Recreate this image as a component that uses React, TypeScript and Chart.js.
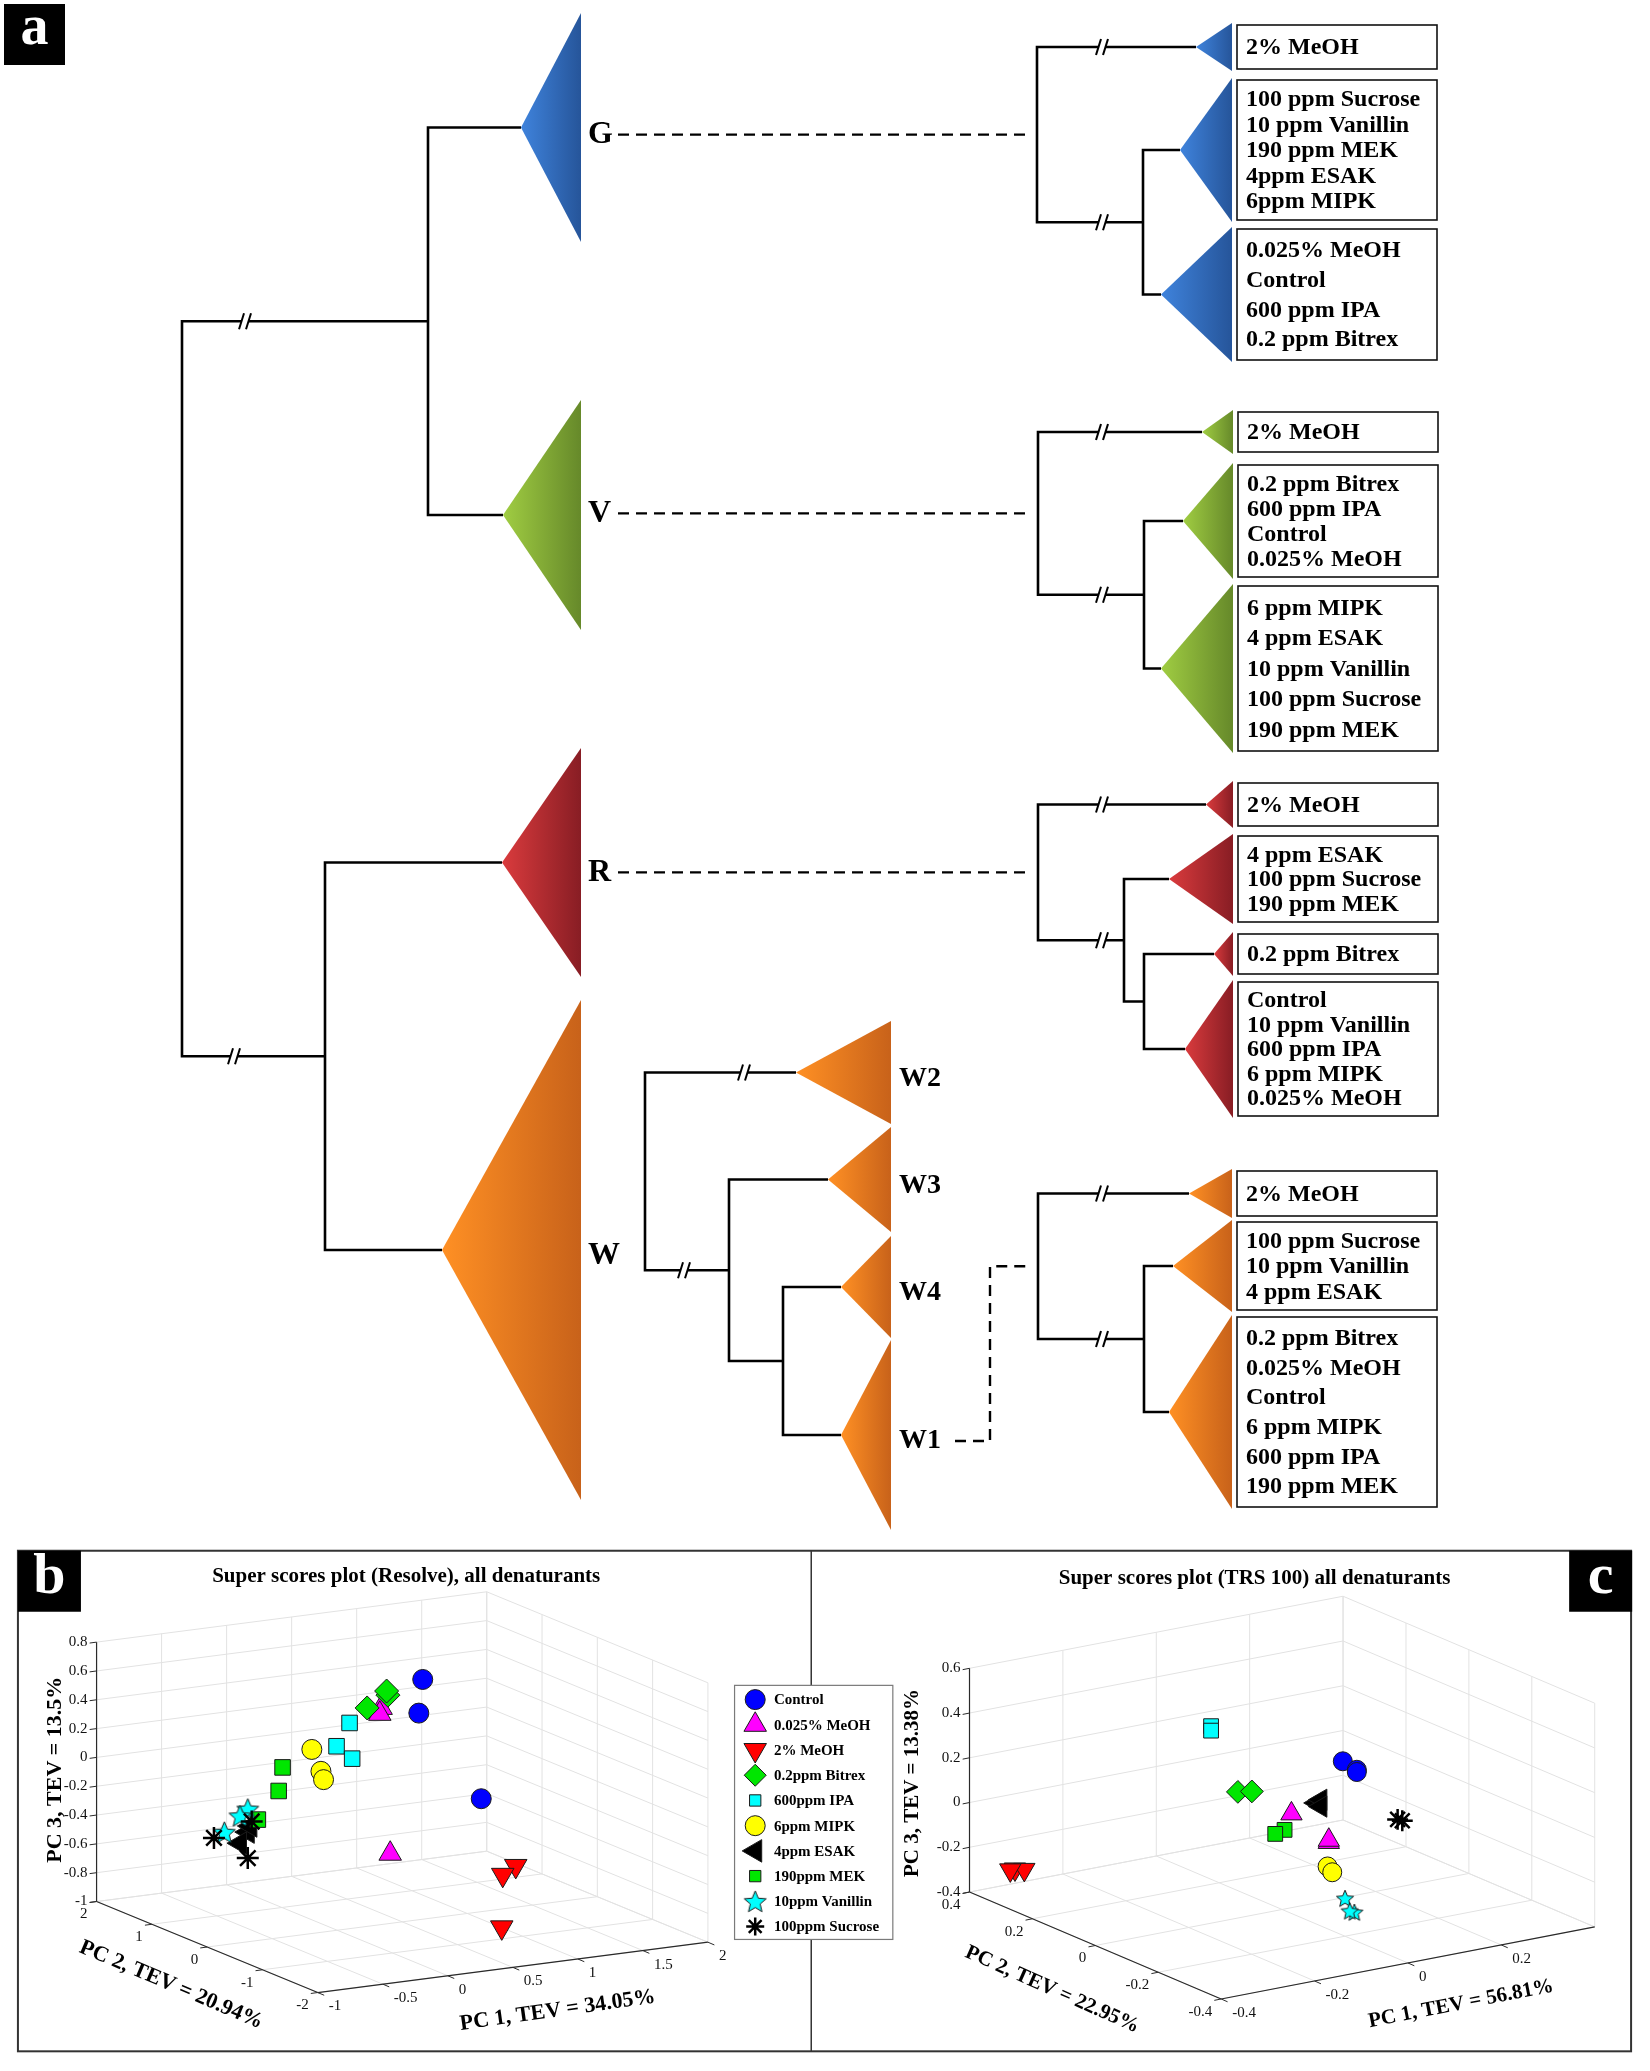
import React, { useEffect, useRef } from 'react';
import { Chart, registerables } from 'chart.js';
import { drawPoint } from 'chart.js/helpers';

Chart.register(...registerables);

// ======================= DATA =======================
// Panel a – dendrogram content
const MAIN_CLUSTERS = ['G', 'V', 'R', 'W'];
const W_SUBCLUSTERS = ['W2', 'W3', 'W4', 'W1'];
const G_GROUPS = [
  ['2% MeOH'],
  ['100 ppm Sucrose', '10 ppm Vanillin', '190 ppm MEK', '4ppm ESAK', '6ppm MIPK'],
  ['0.025% MeOH', 'Control', '600 ppm IPA', '0.2 ppm Bitrex'],
];
const V_GROUPS = [
  ['2% MeOH'],
  ['0.2 ppm Bitrex', '600 ppm IPA', 'Control', '0.025% MeOH'],
  ['6 ppm MIPK', '4 ppm ESAK', '10 ppm Vanillin', '100 ppm Sucrose', '190 ppm MEK'],
];
const R_GROUPS = [
  ['2% MeOH'],
  ['4 ppm ESAK', '100 ppm Sucrose', '190 ppm MEK'],
  ['0.2 ppm Bitrex'],
  ['Control', '10 ppm Vanillin', '600 ppm IPA', '6 ppm MIPK', '0.025% MeOH'],
];
const W1_GROUPS = [
  ['2% MeOH'],
  ['100 ppm Sucrose', '10 ppm Vanillin', '4 ppm ESAK'],
  ['0.2 ppm Bitrex', '0.025% MeOH', 'Control', '6 ppm MIPK', '600 ppm IPA', '190 ppm MEK'],
];

// Panels b and c – super scores
const TREATMENTS = [
  'Control', '0.025% MeOH', '2% MeOH', '0.2ppm Bitrex', '600ppm IPA',
  '6ppm MIPK', '4ppm ESAK', '190ppm MEK', '10ppm Vanillin', '100ppm Sucrose',
];
const RESOLVE_TITLE = 'Super scores plot (Resolve), all denaturants';
const TRS_TITLE = 'Super scores plot (TRS 100) all denaturants';
const RESOLVE_AXIS_TITLES = ['PC 1, TEV = 34.05%', 'PC 2, TEV = 20.94%', 'PC 3, TEV = 13.5%'];
const TRS_AXIS_TITLES = ['PC 1, TEV = 56.81%', 'PC 2, TEV = 22.95%', 'PC 3, TEV = 13.38%'];
const RESOLVE_PC1_TICKS = [-1, -0.5, 0, 0.5, 1, 1.5, 2];
const RESOLVE_PC2_TICKS = [-2, -1, 0, 1, 2];
const RESOLVE_PC3_TICKS = [-1, -0.8, -0.6, -0.4, -0.2, 0, 0.2, 0.4, 0.6, 0.8];
const TRS_PC1_TICKS = [-0.4, -0.2, 0, 0.2];
const TRS_PC2_TICKS = [-0.4, -0.2, 0, 0.2, 0.4];
const TRS_PC3_TICKS = [-0.4, -0.2, 0, 0.2, 0.4, 0.6];
const RESOLVE_LIMITS = { min: [-1, -2, -1], max: [2, 2, 0.8] };
const TRS_LIMITS = { min: [-0.4, -0.4, -0.4], max: [0.4, 0.4, 0.6] };

// [PC1, PC2, PC3] per treatment (order as TREATMENTS)
const RESOLVE_SCORES = [
  [[0.87, 0.5, 0.56], [0.84, 0.5, 0.33], [1.32, 0.5, -0.32]],
  [[0.55, 0.5, 0.4], [0.54, 0.5, 0.36], [0.62, 0.5, -0.62]],
  [[1.16, -0.5, -0.61], [1.06, -0.5, -0.66], [0.84, -1, -0.92]],
  [[0.73, 0.8, 0.42], [0.72, 0.8, 0.45], [0.57, 0.8, 0.35]],
  [[0.52, 1, 0.22], [0.42, 1, 0.07], [0.54, 1, -0.03]],
  [[0.23, 1, 0.07], [0.3, 1, -0.09], [0.32, 1, -0.15]],
  [[-0.05, 1.5, -0.55], [-0.11, 1.5, -0.62], [-0.03, 1.5, -0.51]],
  [[0.09, 1.2, -0.07], [0.06, 1.2, -0.23], [-0.1, 1.2, -0.41]],
  [[-0.05, 1.5, -0.39], [-0.11, 1.5, -0.43], [-0.23, 1.5, -0.53]],
  [[-0.31, 1.5, -0.56], [-0.02, 1.5, -0.48], [-0.05, 1.5, -0.73]],
];
const TRS_SCORES = [
  [[0.13, 0, 0.21], [0.16, 0, 0.16], [0.16, 0, 0.15]],
  [[0.02, 0, 0.02], [0.1, 0, -0.14], [0.1, 0, -0.13]],
  [[-0.37, 0.3, -0.25], [-0.35, 0.3, -0.26], [-0.38, 0.3, -0.25]],
  [[0.04, 0.2, -0.01], [0.07, 0.2, -0.02]],
  [[0.05, 0.3, 0.22], [0.05, 0.3, 0.2]],
  [[0.03, -0.1, -0.16], [0.04, -0.1, -0.19]],
  [[0.14, 0.1, -0.04], [0.15, 0.1, -0.03], [0.15, 0.1, -0.06]],
  [[0.14, 0.2, -0.22], [0.12, 0.2, -0.23]],
  [[0.0, -0.2, -0.23], [0.02, -0.2, -0.3], [0.01, -0.2, -0.29]],
  [[0.18, -0.1, -0.01], [0.19, -0.1, -0.02]],
];

// ======================= STYLE / LAYOUT =======================
const PAGE_W = 1650;
const PAGE_H = 2071;
const TOP_H = 1532;
const SERIF = '"Liberation Serif", "Times New Roman", serif';

const HUES: Record<string, [string, string]> = {
  G: ['#3f83dc', '#26559a'],
  V: ['#a0cd42', '#66892a'],
  R: ['#da3b3d', '#881d24'],
  W: ['#ff9024', '#c8621a'],
};

type Tri = { t: 'tri'; apex: number; top: number; bottom: number; base: number; hue: string; label?: string; items?: string[] };
type Nd = { t: 'node'; x: number; kids: (Tri | Nd)[]; brk?: (number | null)[] };
type Tree = Tri | Nd;
const tri = (apex: number, top: number, bottom: number, base: number, hue: string, label?: string, items?: string[]): Tri =>
  ({ t: 'tri', apex, top, bottom, base, hue, label, items });
const node = (x: number, kids: Tree[], brk?: (number | null)[]): Nd => ({ t: 'node', x, kids, brk });
const attachY = (n: Tree): number =>
  n.t === 'tri' ? (n.top + n.bottom) / 2 : (attachY(n.kids[0]) + attachY(n.kids[n.kids.length - 1])) / 2;
const attachX = (n: Tree): number => (n.t === 'tri' ? n.apex : n.x);

// main tree
const G_TRI = tri(521, 13, 242, 581, 'G', MAIN_CLUSTERS[0]);
const V_TRI = tri(503, 400, 630, 581, 'V', MAIN_CLUSTERS[1]);
const R_TRI = tri(502, 748, 977, 581, 'R', MAIN_CLUSTERS[2]);
const W_TRI = tri(442, 1000, 1500, 581, 'W', MAIN_CLUSTERS[3]);
const MAIN_TREE = node(182, [node(428, [G_TRI, V_TRI]), node(325, [R_TRI, W_TRI])], [245, 234]);

const W1_TRI = tri(841, 1340, 1530, 891, 'W', W_SUBCLUSTERS[3]);
const W_TREE = node(645, [
  tri(796, 1021, 1124, 891, 'W', W_SUBCLUSTERS[0]),
  node(729, [
    tri(828, 1127, 1232, 891, 'W', W_SUBCLUSTERS[1]),
    node(783, [tri(841, 1236, 1338, 891, 'W', W_SUBCLUSTERS[2]), W1_TRI]),
  ]),
], [744, 684]);

const G_TREE = node(1037, [
  tri(1196, 23, 71, 1232, 'G', undefined, G_GROUPS[0]),
  node(1143, [tri(1180, 78, 222, 1232, 'G', undefined, G_GROUPS[1]), tri(1161, 227, 362, 1232, 'G', undefined, G_GROUPS[2])]),
], [1102, 1102]);
const V_TREE = node(1038, [
  tri(1202, 410, 454, 1233, 'V', undefined, V_GROUPS[0]),
  node(1144, [tri(1183, 463, 579, 1233, 'V', undefined, V_GROUPS[1]), tri(1161, 584, 753, 1233, 'V', undefined, V_GROUPS[2])]),
], [1102, 1102]);
const R_TREE = node(1038, [
  tri(1206, 781, 828, 1233, 'R', undefined, R_GROUPS[0]),
  node(1124, [
    tri(1169, 834, 924, 1233, 'R', undefined, R_GROUPS[1]),
    node(1144, [tri(1214, 932, 976, 1233, 'R', undefined, R_GROUPS[2]), tri(1185, 980, 1118, 1233, 'R', undefined, R_GROUPS[3])]),
  ]),
], [1102, 1102]);
const W1_TREE = node(1038, [
  tri(1189, 1169, 1218, 1232, 'W', undefined, W1_GROUPS[0]),
  node(1144, [tri(1173, 1220, 1312, 1232, 'W', undefined, W1_GROUPS[1]), tri(1169, 1315, 1509, 1232, 'W', undefined, W1_GROUPS[2])]),
], [1102, 1102]);

const LINKS: [Tri, Nd][] = [[G_TRI, G_TREE], [V_TRI, V_TREE], [R_TRI, R_TREE], [W1_TRI, W1_TREE]];

function walk(n: Nd, lines: number[][][], breaks: number[][], tris: Tri[]) {
  const ys = n.kids.map(attachY);
  const k = n.kids.length;
  lines.push([[attachX(n.kids[0]), ys[0]], [n.x, ys[0]], [n.x, ys[k - 1]], [attachX(n.kids[k - 1]), ys[k - 1]]]);
  n.kids.forEach((c, i) => {
    if (i > 0 && i < k - 1) lines.push([[n.x, ys[i]], [attachX(c), ys[i]]]);
    if (n.brk && n.brk[i] != null) breaks.push([n.brk[i] as number, ys[i]]);
    if (c.t === 'node') walk(c, lines, breaks, tris);
    else tris.push(c);
  });
}

function labelY(t: Tri): number {
  const link = LINKS.find((l) => l[0] === t);
  if (link && Math.abs(attachY(link[1]) - attachY(t)) < 40) return attachY(link[1]);
  return attachY(t) + 6;
}

// marker styles for panels b / c
const MARKERS = [
  { style: 'circle', color: '#0000ff', r: 10, rot: 0, lr: 10 },
  { style: 'triangle', color: '#ff00ff', r: 13, rot: 0, lr: 13 },
  { style: 'triangle', color: '#ff0000', r: 13, rot: 180, lr: 13 },
  { style: 'rectRot', color: '#00e600', r: 12, rot: 0, lr: 11 },
  { style: 'rect', color: '#00ffff', r: 11, rot: 0, lr: 8 },
  { style: 'circle', color: '#ffff00', r: 10, rot: 0, lr: 10 },
  { style: 'triangle', color: '#000000', r: 13, rot: -90, lr: 13 },
  { style: 'rect', color: '#00e600', r: 11, rot: 0, lr: 8 },
  { style: 'star5', color: '#00ffff', r: 12, rot: 0, lr: 12 },
  { style: 'star', color: '#000000', r: 11, rot: 0, lr: 9 },
];

type View = {
  origin: number[]; e1: number[]; e2: number[]; e3: number[]; min: number[]; max: number[];
  ticks: number[][]; titles: string[]; title: string; titlePos: number[];
  axisPos: number[][]; axisFont: number; letter: string; letterBox: number[]; starSize: number;
};

const VIEW_B: View = {
  origin: [84, 1907], e1: [132.3, -17.7], e2: [-56.25, -24], e3: [0, -152],
  min: RESOLVE_LIMITS.min, max: RESOLVE_LIMITS.max,
  ticks: [RESOLVE_PC1_TICKS, RESOLVE_PC2_TICKS, RESOLVE_PC3_TICKS],
  titles: RESOLVE_AXIS_TITLES, title: RESOLVE_TITLE, titlePos: [399, 1564],
  axisPos: [[553, 2022, -8], [160, 1995, 23], [42, 1768, -90]], axisFont: 22,
  letter: 'b', letterBox: [4, 1537, 63, 61], starSize: 25,
};
const VIEW_C: View = {
  origin: [972, 1897], e1: [475, -95], e2: [-320, -141], e3: [0, -236],
  min: TRS_LIMITS.min, max: TRS_LIMITS.max,
  ticks: [TRS_PC1_TICKS, TRS_PC2_TICKS, TRS_PC3_TICKS],
  titles: TRS_AXIS_TITLES, title: TRS_TITLE, titlePos: [1262, 1566],
  axisPos: [[1472, 2015, -11], [1056, 2000, 24], [914, 1782, -90]], axisFont: 21,
  letter: 'c', letterBox: [1582, 1537, 63, 61], starSize: 20,
};

function project(v: View, p: number[]) {
  const a = p[0] - v.min[0];
  const b = p[1] - v.max[1];
  const c = p[2] - v.min[2];
  return {
    x: v.origin[0] + a * v.e1[0] + b * v.e2[0] + c * v.e3[0],
    y: v.origin[1] + a * v.e1[1] + b * v.e2[1] + c * v.e3[1],
  };
}

function starImage(size: number, fill: string) {
  const c = document.createElement('canvas');
  c.width = size;
  c.height = size;
  const g = c.getContext('2d')!;
  const R = size / 2 - 1;
  const r = R * 0.45;
  g.beginPath();
  for (let i = 0; i < 10; i++) {
    const a = -Math.PI / 2 + (i * Math.PI) / 5;
    const rr = i % 2 ? r : R;
    g.lineTo(size / 2 + rr * Math.cos(a), size / 2 + 1 + rr * Math.sin(a));
  }
  g.closePath();
  g.fillStyle = fill;
  g.fill();
  g.strokeStyle = '#1a1a1a';
  g.lineWidth = 1;
  g.stroke();
  return c;
}

const fmt = (v: number) => String(+v.toFixed(2));

// ======================= PANEL A =======================
function buildTreeChart(canvas: HTMLCanvasElement) {
  const lines: number[][][] = [];
  const breaks: number[][] = [];
  const tris: Tri[] = [];
  [MAIN_TREE, W_TREE, G_TREE, V_TREE, R_TREE, W1_TREE].forEach((t) => walk(t, lines, breaks, tris));

  const dashed: number[][][] = LINKS.map(([t, sub]) => {
    const ly = labelY(t);
    const sy = attachY(sub);
    if (Math.abs(ly - sy) < 40) return [[t.base + 37, ly], [sub.x - 11, ly]];
    return [[t.base + 64, ly], [t.base + 99, ly], [t.base + 99, sy], [sub.x - 6, sy]];
  });

  const datasets: any[] = [
    ...lines.map((pl) => ({
      data: pl.map(([x, y]) => ({ x, y })), showLine: true, borderColor: '#000', borderWidth: 2.6,
      pointRadius: 0, borderJoinStyle: 'miter', borderCapStyle: 'butt', fill: false, tension: 0,
    })),
    ...dashed.map((pl) => ({
      data: pl.map(([x, y]) => ({ x, y })), showLine: true, borderColor: '#000', borderWidth: 2.4,
      borderDash: [11, 7], pointRadius: 0, fill: false, tension: 0,
    })),
  ];

  const decor = {
    id: 'treeDecor',
    beforeDatasetsDraw(chart: any) {
      const ctx = chart.ctx as CanvasRenderingContext2D;
      const X = (v: number) => chart.scales.x.getPixelForValue(v);
      const Y = (v: number) => chart.scales.y.getPixelForValue(v);
      ctx.save();
      tris.forEach((t) => {
        const [c0, c1] = HUES[t.hue];
        const g = ctx.createLinearGradient(X(t.apex), 0, X(t.base), 0);
        g.addColorStop(0, c0);
        g.addColorStop(1, c1);
        ctx.beginPath();
        ctx.moveTo(X(t.apex), Y(attachY(t)));
        ctx.lineTo(X(t.base), Y(t.top));
        ctx.lineTo(X(t.base), Y(t.bottom));
        ctx.closePath();
        ctx.fillStyle = g;
        ctx.fill();
      });
      ctx.restore();
    },
    afterDatasetsDraw(chart: any) {
      const ctx = chart.ctx as CanvasRenderingContext2D;
      const X = (v: number) => chart.scales.x.getPixelForValue(v);
      const Y = (v: number) => chart.scales.y.getPixelForValue(v);
      ctx.save();
      // break marks
      breaks.forEach(([bx, by]) => {
        const px = X(bx);
        const py = Y(by);
        ctx.fillStyle = '#fff';
        ctx.fillRect(px - 3, py - 2, 6, 4);
        ctx.strokeStyle = '#000';
        ctx.lineWidth = 2;
        [-3.5, 3.5].forEach((o) => {
          ctx.beginPath();
          ctx.moveTo(px + o - 2.5, py + 8);
          ctx.lineTo(px + o + 2.5, py - 8);
          ctx.stroke();
        });
      });
      // labels and boxes
      ctx.fillStyle = '#000';
      ctx.textBaseline = 'middle';
      tris.forEach((t) => {
        if (t.label) {
          ctx.font = `bold ${t.label.length > 1 ? 28 : 32}px ${SERIF}`;
          ctx.textAlign = 'left';
          ctx.fillStyle = '#000';
          ctx.fillText(t.label, X(t.base + (t.label.length > 1 ? 8 : 7)), Y(labelY(t)));
        }
        if (t.items) {
          const x0 = X(t.base + 5);
          const x1 = X(t.base + 205);
          const y0 = Y(t.top + 2);
          const y1 = Y(t.bottom - 2);
          ctx.fillStyle = '#fff';
          ctx.fillRect(x0, y0, x1 - x0, y1 - y0);
          ctx.strokeStyle = '#111';
          ctx.lineWidth = 1.6;
          ctx.strokeRect(x0, y0, x1 - x0, y1 - y0);
          const h = y1 - y0;
          const n = t.items.length;
          const s = (h - 12) / n;
          ctx.fillStyle = '#000';
          ctx.font = `bold 24px ${SERIF}`;
          ctx.textAlign = 'left';
          t.items.forEach((it, i) => {
            ctx.fillText(it, x0 + 9, y0 + h / 2 + (i - (n - 1) / 2) * s + 1);
          });
        }
      });
      // panel letter
      ctx.fillStyle = '#000';
      ctx.fillRect(4, 4, 61, 61);
      ctx.fillStyle = '#fff';
      ctx.font = `bold 56px ${SERIF}`;
      ctx.textAlign = 'center';
      ctx.textBaseline = 'middle';
      ctx.fillText('a', 34.5, 30);
      ctx.restore();
    },
  };

  return new Chart(canvas, {
    type: 'scatter',
    data: { datasets },
    options: {
      animation: false,
      responsive: false,
      events: [],
      layout: { padding: 0 },
      plugins: { legend: { display: false }, tooltip: { enabled: false } },
      scales: {
        x: { type: 'linear', min: 0, max: PAGE_W, display: false },
        y: { type: 'linear', min: 0, max: TOP_H, reverse: true, display: false },
      },
    } as any,
    plugins: [decor],
  });
}

// ======================= PANELS B & C =======================
function draw3DFrame(chart: any, v: View) {
  const ctx = chart.ctx as CanvasRenderingContext2D;
  const P = (p1: number, p2: number, p3: number) => {
    const q = project(v, [p1, p2, p3]);
    return [chart.scales.x.getPixelForValue(q.x), chart.scales.y.getPixelForValue(q.y)];
  };
  const seg = (a: number[], b: number[], color: string, w: number) => {
    ctx.beginPath();
    ctx.moveTo(a[0], a[1]);
    ctx.lineTo(b[0], b[1]);
    ctx.strokeStyle = color;
    ctx.lineWidth = w;
    ctx.stroke();
  };
  const [x0, y0, z0] = v.min;
  const [x1, y1, z1] = v.max;
  const withEnds = (t: number[], lo: number, hi: number) => Array.from(new Set([lo, ...t, hi]));
  const tx = withEnds(v.ticks[0], x0, x1);
  const ty = withEnds(v.ticks[1], y0, y1);
  const tz = withEnds(v.ticks[2], z0, z1);
  const GRID = '#e2e2e2';
  ctx.save();
  tx.forEach((a) => seg(P(a, y0, z0), P(a, y1, z0), GRID, 1));
  ty.forEach((b) => seg(P(x0, b, z0), P(x1, b, z0), GRID, 1));
  tx.forEach((a) => seg(P(a, y1, z0), P(a, y1, z1), GRID, 1));
  tz.forEach((c) => seg(P(x0, y1, c), P(x1, y1, c), GRID, 1));
  ty.forEach((b) => seg(P(x1, b, z0), P(x1, b, z1), GRID, 1));
  tz.forEach((c) => seg(P(x1, y0, c), P(x1, y1, c), GRID, 1));

  const AX = '#2a2a2a';
  seg(P(x0, y1, z0), P(x0, y1, z1), AX, 1.2);
  seg(P(x0, y1, z0), P(x0, y0, z0), AX, 1.2);
  seg(P(x0, y0, z0), P(x1, y0, z0), AX, 1.2);

  const n1 = Math.hypot(v.e1[0], v.e1[1]);
  const n2 = Math.hypot(v.e2[0], v.e2[1]);
  const out1 = [-v.e1[0] / n1, -v.e1[1] / n1];
  const out2 = [-v.e2[0] / n2, -v.e2[1] / n2];
  const TL = 7;
  ctx.font = `15px ${SERIF}`;
  ctx.fillStyle = '#111';
  ctx.textBaseline = 'middle';
  v.ticks[2].forEach((c) => {
    const p = P(x0, y1, c);
    seg(p, [p[0] + out1[0] * TL, p[1] + out1[1] * TL], AX, 1);
    ctx.textAlign = 'right';
    ctx.fillText(fmt(c), p[0] - 9, p[1]);
  });
  v.ticks[1].forEach((b) => {
    const p = P(x0, b, z0);
    seg(p, [p[0] + out1[0] * TL, p[1] + out1[1] * TL], AX, 1);
    ctx.textAlign = 'right';
    ctx.fillText(fmt(b), p[0] - 9, p[1] + 13);
  });
  v.ticks[0].forEach((a) => {
    const p = P(a, y0, z0);
    seg(p, [p[0] + out2[0] * TL, p[1] + out2[1] * TL], AX, 1);
    ctx.textAlign = 'left';
    ctx.fillText(fmt(a), p[0] + 11, p[1] + 14);
  });

  ctx.fillStyle = '#000';
  ctx.font = `bold ${v.axisFont}px ${SERIF}`;
  ctx.textAlign = 'center';
  v.titles.forEach((t, i) => {
    const [ax, ay, rot] = v.axisPos[i];
    ctx.save();
    ctx.translate(chart.scales.x.getPixelForValue(ax), chart.scales.y.getPixelForValue(ay));
    ctx.rotate((rot * Math.PI) / 180);
    ctx.fillText(t, 0, 0);
    ctx.restore();
  });
  ctx.font = `bold 21px ${SERIF}`;
  ctx.fillText(v.title, chart.scales.x.getPixelForValue(v.titlePos[0]), chart.scales.y.getPixelForValue(v.titlePos[1]));
  const [lx, ly, lw, lh] = v.letterBox;
  const px = chart.scales.x.getPixelForValue(lx);
  const py = chart.scales.y.getPixelForValue(ly);
  ctx.fillStyle = '#000';
  ctx.fillRect(px, py, lw, lh);
  ctx.fillStyle = '#fff';
  ctx.font = `bold 58px ${SERIF}`;
  ctx.fillText(v.letter, px + lw / 2, py + lh / 2 - 3);
  ctx.restore();
}

function buildScoresChart(canvas: HTMLCanvasElement) {
  const stars = {
    b: starImage(VIEW_B.starSize, MARKERS[8].color),
    c: starImage(VIEW_C.starSize, MARKERS[8].color),
  };
  const styleFor = (i: number, which: 'b' | 'c') => (MARKERS[i].style === 'star5' ? stars[which] : MARKERS[i].style);
  const mk = (scores: number[][][], view: View, which: 'b' | 'c') =>
    scores.map((pts, i) => ({
      label: TREATMENTS[i],
      data: pts.map((p) => project(view, p)),
      pointStyle: styleFor(i, which),
      pointRadius: which === 'c' ? MARKERS[i].r * 0.95 : MARKERS[i].r,
      pointRotation: MARKERS[i].rot,
      backgroundColor: MARKERS[i].color,
      borderColor: MARKERS[i].style === 'star' ? '#000' : '#1a1a1a',
      borderWidth: MARKERS[i].style === 'star' ? 2.5 : 1,
      showLine: false,
      order: 20 - i,
      clip: false,
    }));

  const frame = {
    id: 'frame3d',
    beforeDatasetsDraw(chart: any) {
      const ctx = chart.ctx as CanvasRenderingContext2D;
      const Y = (v: number) => chart.scales.y.getPixelForValue(v);
      const X = (v: number) => chart.scales.x.getPixelForValue(v);
      ctx.save();
      ctx.strokeStyle = '#333';
      ctx.lineWidth = 2;
      ctx.strokeRect(X(4), Y(1537), X(1645) - X(4), Y(2065) - Y(1537));
      ctx.lineWidth = 1.5;
      ctx.beginPath();
      ctx.moveTo(X(811), Y(1537));
      ctx.lineTo(X(811), Y(2065));
      ctx.stroke();
      ctx.restore();
      draw3DFrame(chart, VIEW_B);
      draw3DFrame(chart, VIEW_C);
    },
    afterDatasetsDraw(chart: any) {
      const ctx = chart.ctx as CanvasRenderingContext2D;
      const Y = (v: number) => chart.scales.y.getPixelForValue(v);
      const X = (v: number) => chart.scales.x.getPixelForValue(v);
      ctx.save();
      const bx0 = X(733), by0 = Y(1679), bx1 = X(894), by1 = Y(1947);
      ctx.fillStyle = '#fff';
      ctx.fillRect(bx0, by0, bx1 - bx0, by1 - by0);
      ctx.strokeStyle = '#7a7a7a';
      ctx.lineWidth = 1.2;
      ctx.strokeRect(bx0, by0, bx1 - bx0, by1 - by0);
      TREATMENTS.forEach((name, i) => {
        const yy = Y(1694 + i * 26.6);
        const m = MARKERS[i];
        ctx.save();
        ctx.fillStyle = m.color;
        ctx.strokeStyle = m.style === 'star' ? '#000' : '#1a1a1a';
        ctx.lineWidth = m.style === 'star' ? 2.5 : 1;
        drawPoint(ctx, {
          pointStyle: m.style === 'star5' ? stars.b : m.style,
          radius: m.lr,
          rotation: m.rot,
          borderWidth: m.style === 'star' ? 2.5 : 1,
        } as any, X(754), yy);
        ctx.restore();
        ctx.fillStyle = '#000';
        ctx.font = `bold 15px ${SERIF}`;
        ctx.textAlign = 'left';
        ctx.textBaseline = 'middle';
        ctx.fillText(name, X(773), yy + 1);
      });
      ctx.restore();
    },
  };

  return new Chart(canvas, {
    type: 'scatter',
    data: { datasets: [...mk(RESOLVE_SCORES, VIEW_B, 'b'), ...mk(TRS_SCORES, VIEW_C, 'c')] as any },
    options: {
      animation: false,
      responsive: false,
      events: [],
      layout: { padding: 0 },
      plugins: { legend: { display: false }, tooltip: { enabled: false } },
      scales: {
        x: { type: 'linear', min: 0, max: PAGE_W, display: false },
        y: { type: 'linear', min: TOP_H, max: PAGE_H, reverse: true, display: false },
      },
    } as any,
    plugins: [frame],
  });
}

export default function App() {
  const topRef = useRef<HTMLCanvasElement>(null);
  const botRef = useRef<HTMLCanvasElement>(null);
  useEffect(() => {
    const a = buildTreeChart(topRef.current!);
    const b = buildScoresChart(botRef.current!);
    return () => {
      a.destroy();
      b.destroy();
    };
  }, []);
  return (
    <div style={{ position: 'absolute', left: 0, top: 0, width: PAGE_W, height: PAGE_H, background: '#fff', overflow: 'hidden' }}>
      <canvas ref={topRef} width={PAGE_W} height={TOP_H}
        style={{ position: 'absolute', left: 0, top: 0, width: PAGE_W, height: TOP_H }} />
      <canvas ref={botRef} width={PAGE_W} height={PAGE_H - TOP_H}
        style={{ position: 'absolute', left: 0, top: TOP_H, width: PAGE_W, height: PAGE_H - TOP_H }} />
    </div>
  );
}
